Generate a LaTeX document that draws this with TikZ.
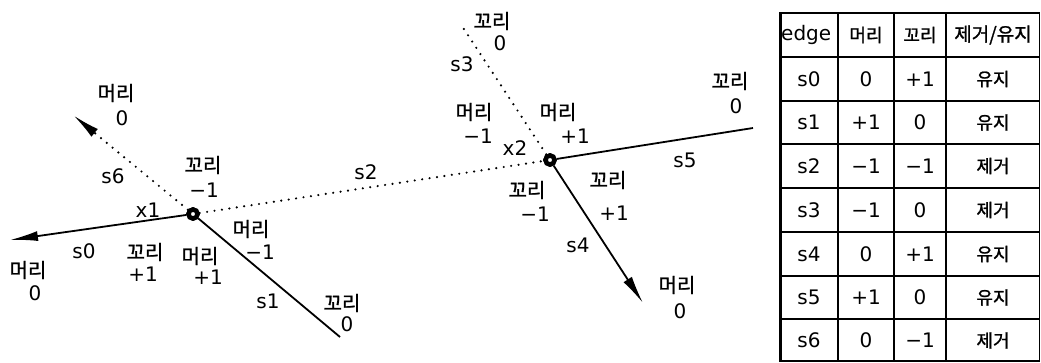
\documentclass[tikz,border=0pt]{standalone}
\usepackage{fontspec}
\setmainfont{DejaVu Sans}
\newfontfamily\kr[FakeBold=1.2]{Noto Sans CJK KR}
\usetikzlibrary{arrows.meta}
\begin{document}
\begin{tikzpicture}[x=1pt,y=-1pt,
  vtx/.style={circle,draw,line width=4.5pt,minimum size=9pt,inner sep=0pt,fill=white},
  solidedge/.style={line width=1.8pt},
  dotedge/.style={line width=2.4pt,line cap=round,dash pattern=on 0pt off 7.5pt},
  kw/.style={font=\kr\fontsize{20}{20}\selectfont,inner sep=0pt},
  num/.style={font=\fontsize{20}{20}\selectfont,inner sep=0pt},
  tipA/.style={-{Latex[length=28pt,width=10pt]}},
  tbl/.style={line width=1.5pt},
  tkw/.style={font=\kr\fontsize{18}{18}\selectfont,inner sep=0pt},
  tnum/.style={font=\fontsize{20}{20}\selectfont,inner sep=0pt},
]
\useasboundingbox (0,0) rectangle (1041,362);

% vertices
\node[vtx] (x1) at (193,214) {};
\node[vtx] (x2) at (550,160) {};

% free ends
\coordinate (e0) at (10,240);
\coordinate (e6) at (73,115);
\coordinate (e1) at (340,337);
\coordinate (e3) at (460,23);
\coordinate (e5) at (753,128);
\coordinate (e4) at (643,303);

% edges
\draw[solidedge,tipA] (x1) -- (e0);
\draw[dotedge,tipA] (x1) -- (e6);
\draw[solidedge] (x1) -- (e1);
\draw[dotedge] (x1) -- (x2);
\draw[dotedge] (x2) -- (e3);
\draw[solidedge] (x2) -- (e5);
\draw[solidedge,tipA] (x2) -- (e4);

% redraw vertices on top
\node[vtx] at (x1) {};
\node[vtx] at (x2) {};

% labels around x1
\node[kw] (h6) at (116,93) {머리}; \node[num] (h6v) at (122,118) {0};
\node[num] (l6) at (113,176) {s6};
\node[kw] (t6) at (203,165) {꼬리}; \node[num] (t6v) at (204,190) {−1};
\node[num] (lx1) at (148,210) {x1};
\node[num] (l0) at (84,251) {s0};
\node[kw] (t0) at (145,252) {꼬리}; \node[num] (t0v) at (143,274) {+1};
\node[kw] (h1) at (200,256) {머리}; \node[num] (h1v) at (208,277) {+1};
\node[kw] (h2) at (251,229) {머리}; \node[num] (h2v) at (260,252) {−1};
\node[kw] (h0) at (28,270) {머리}; \node[num] (h0v) at (35,293) {0};
\node[num] (l1) at (268,301) {s1};
\node[kw] (t1) at (342,303) {꼬리}; \node[num] (t1v) at (347,324) {0};

% labels around x2
\node[kw] (t3) at (492,21) {꼬리}; \node[num] (t3v) at (500,43) {0};
\node[num] (l3) at (462,64) {s3};
\node[kw] (h3) at (474,112) {머리}; \node[num] (h3v) at (478,136) {−1};
\node[kw] (h5) at (558,112) {머리}; \node[num] (h5v) at (575,136) {+1};
\node[num] (lx2) at (515,148) {x2};
\node[num] (l2) at (366,172) {s2};
\node[kw] (t2) at (527,190) {꼬리}; \node[num] (t2v) at (535,214) {−1};
\node[kw] (t4) at (608,180) {꼬리}; \node[num] (t4v) at (614,213) {+1};
\node[num] (l4) at (578,245) {s4};
\node[num] (l5) at (685,160) {s5};
\node[kw] (t5) at (730,81) {꼬리}; \node[num] (t5v) at (736,106) {0};
\node[kw] (h4) at (677,285) {머리}; \node[num] (h4v) at (680,311) {0};

% table grid
\draw[tbl] (780,13) rectangle (1039.5,361);
\draw[line width=2.2pt] (780.5,13) -- (780.5,361);
\foreach \yy in {57,101,144,188,232,276,319} \draw[tbl] (780,\yy) -- (1039.5,\yy);
\foreach \xx in {838,894,946} \draw[tbl] (\xx,13) -- (\xx,361);

% table header
\node[tnum,anchor=west] (hd0) at (781,35) {edge};
\node[tkw] (hd1) at (866,35) {머리};
\node[tkw] (hd2) at (920,35) {꼬리};
\node[tkw,font=\kr\fontsize{19}{19}\selectfont] (hd3) at (993,35) {제거/유지};

% table rows
\foreach \i/\yy/\b/\c/\d in {0/79/0/+1/유지, 1/122.5/+1/0/유지, 2/166/−1/−1/제거, 3/210/−1/0/제거, 4/254/0/+1/유지, 5/297.5/+1/0/유지, 6/340.5/0/−1/제거}{
  \node[tnum] (r\i a) at (809,\yy) {s\i};
  \node[tnum] (r\i b) at (866,\yy) {\b};
  \node[tnum] (r\i c) at (920,\yy) {\c};
  \node[tkw] (r\i d) at (993,\yy) {\d};
}
\end{tikzpicture}
\end{document}
